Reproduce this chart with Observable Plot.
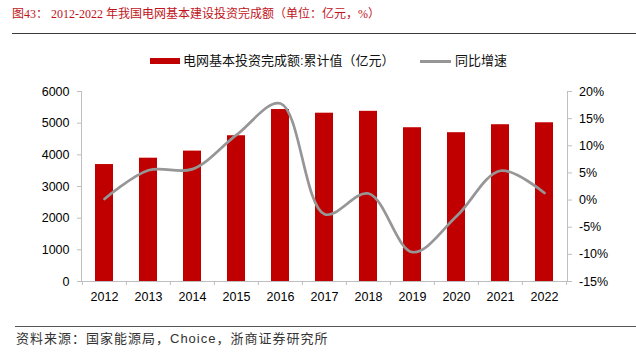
<!DOCTYPE html>
<html><head><meta charset="utf-8">
<script src="https://cdn.jsdelivr.net/npm/d3@7"></script>
<script src="https://cdn.jsdelivr.net/npm/@observablehq/plot@0.6"></script>
<style>
body{margin:0;background:#fff;width:636px;height:356px;position:relative;overflow:hidden;font-family:"Liberation Sans",Arial,"Noto Sans CJK SC",sans-serif;}
#title{position:absolute;left:12px;top:6px;font-size:12px;line-height:16px;font-family:"Liberation Serif","Noto Sans CJK SC",serif;color:#c0141c;white-space:nowrap;}
#tline{position:absolute;left:12px;top:33px;width:624px;height:0;border-top:1.5px solid #3a3a3a;}
.sw{position:absolute;}
.lt{position:absolute;font-size:13px;line-height:16px;top:53px;color:#111;white-space:nowrap;font-family:"Liberation Sans",Arial,"Noto Sans CJK SC",sans-serif;}
#chart{position:absolute;left:0;top:80px;width:636px;height:240px;}
#chart svg{position:absolute;left:0;top:0;}
#fline{position:absolute;left:15px;top:326px;width:621px;height:0;border-top:1.5px solid #555;}
#source{position:absolute;left:16px;top:331px;font-size:13px;line-height:16px;letter-spacing:1px;color:#333;white-space:nowrap;font-family:"Liberation Sans",Arial,"Noto Sans CJK SC",sans-serif;}
</style></head>
<body>
<div id="title"></div>
<div id="tline"></div>
<div class="sw" style="left:150px;top:58px;width:30px;height:6px;background:#c00000"></div>
<div class="lt" id="lg1" style="left:183px"></div>
<div class="sw" style="left:420px;top:60px;width:31px;height:2.5px;background:#969696"></div>
<div class="lt" id="lg2" style="left:455px"></div>
<div id="chart"></div>
<div id="fline"></div>
<div id="source"></div>
<script>
const titleText = "图43： 2012-2022 年我国电网基本建设投资完成额（单位：亿元，%）";
const seriesBar = "电网基本投资完成额:累计值（亿元）";
const seriesLine = "同比增速";
const sourceText = "资料来源：国家能源局，Choice，浙商证券研究所";
const years = ["2012","2013","2014","2015","2016","2017","2018","2019","2020","2021","2022"];
const investment = [3693, 3894, 4118, 4603, 5431, 5315, 5374, 4856, 4699, 4951, 5012];
const growth = [0.2, 5.5, 5.7, 12.0, 17.8, -2.6, 1.2, -9.6, -3.0, 5.4, 1.3];
const leftTicks = [0, 1000, 2000, 3000, 4000, 5000, 6000];
const rightTicks = [-15, -10, -5, 0, 5, 10, 15, 20];

document.getElementById("title").textContent = titleText;
document.getElementById("lg1").textContent = seriesBar;
document.getElementById("lg2").textContent = seriesLine;
document.getElementById("source").textContent = sourceText;

const W = 636, H = 240, mL = 81, mR = 69, mT = 11, mB = 39;
const step = (W - mL - mR) / years.length;
const axisColor = "#bfbfbf";
const common = {
  width: W, height: H, marginLeft: mL, marginRight: mR, marginTop: mT, marginBottom: mB,
  style: {fontFamily: "Liberation Sans, Arial, sans-serif", fontSize: "12.5px", color: "#000", background: "transparent", overflow: "visible"}
};
const xOpts = {domain: years, paddingInner: 0.6, paddingOuter: 0.3, label: null};

const bars = Plot.plot({
  ...common,
  x: xOpts,
  y: {domain: [0, 6000], label: null},
  marks: [
    Plot.barY(years, {x: d => d, y: (d, i) => investment[i], fill: "#c00000"}),
    Plot.frame({anchor: "left", stroke: axisColor}),
    Plot.ruleY([0], {stroke: axisColor}),
    Plot.axisY({ticks: leftTicks, tickFormat: d => String(d), tickSize: 4, tickPadding: 8, stroke: axisColor, fill: "#000", label: null}),
    Plot.axisX({tickSize: 0, tickPadding: 11, fill: "#000", label: null}),
    Plot.axisX({tickSize: 4, tickFormat: () => "", stroke: axisColor, dx: -step / 2, label: null}),
    Plot.axisX({ticks: [years[years.length - 1]], tickSize: 4, tickFormat: () => "", stroke: axisColor, dx: step / 2, label: null})
  ]
});

const line = Plot.plot({
  ...common,
  x: {...xOpts, axis: null},
  y: {domain: [-15, 20], label: null},
  marks: [
    Plot.frame({anchor: "right", stroke: axisColor}),
    Plot.axisY({anchor: "right", ticks: rightTicks, tickFormat: d => d + "%", tickSize: 4, tickPadding: 7.5, stroke: axisColor, fill: "#000", label: null}),
    Plot.lineY(years, {x: d => d, y: (d, i) => growth[i], stroke: "#969696", strokeWidth: 2.7, curve: "catmull-rom"})
  ]
});

const chart = document.getElementById("chart");
chart.appendChild(bars);
chart.appendChild(line);
</script>
</body></html>
